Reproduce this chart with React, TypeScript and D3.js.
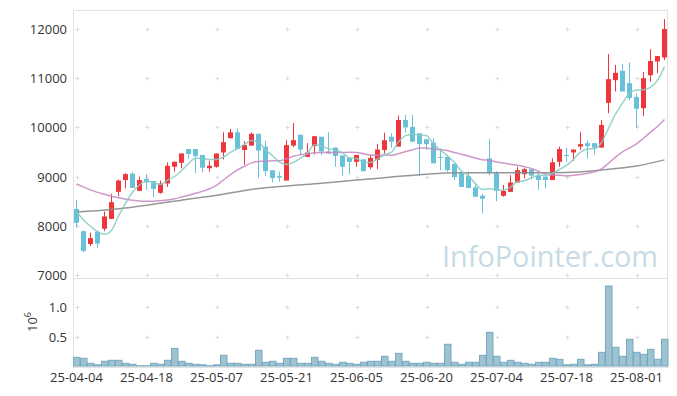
import React from "react";
import * as d3 from "d3";

// trading days, 25-04-04 .. 25-08-07
const dates = [
  "25-04-04", "25-04-07", "25-04-08", "25-04-09", "25-04-10", "25-04-11", "25-04-14", "25-04-15", "25-04-16", "25-04-17",
  "25-04-18", "25-04-21", "25-04-22", "25-04-23", "25-04-24", "25-04-25", "25-04-28", "25-04-29", "25-04-30", "25-05-02",
  "25-05-07", "25-05-08", "25-05-09", "25-05-12", "25-05-13", "25-05-14", "25-05-15", "25-05-16", "25-05-19", "25-05-20",
  "25-05-21", "25-05-22", "25-05-23", "25-05-26", "25-05-27", "25-05-28", "25-05-29", "25-05-30", "25-06-02", "25-06-04",
  "25-06-05", "25-06-09", "25-06-10", "25-06-11", "25-06-12", "25-06-13", "25-06-16", "25-06-17", "25-06-18", "25-06-19",
  "25-06-20", "25-06-23", "25-06-24", "25-06-25", "25-06-26", "25-06-27", "25-06-30", "25-07-01", "25-07-02", "25-07-03",
  "25-07-04", "25-07-07", "25-07-08", "25-07-09", "25-07-10", "25-07-11", "25-07-14", "25-07-15", "25-07-16", "25-07-17",
  "25-07-18", "25-07-21", "25-07-22", "25-07-23", "25-07-24", "25-07-25", "25-07-28", "25-07-29", "25-07-30", "25-07-31",
  "25-08-01", "25-08-04", "25-08-05", "25-08-06", "25-08-07",
];

const opens = [
  8340, 7890, 7630, 7880, 7940, 8140, 8690, 8930, 9060, 8710,
  8950, 8910, 8670, 8860, 9200, 9280, 9560, 9560, 9440, 9170,
  9200, 9490, 9780, 9900, 9540, 9630, 9870, 9610, 9130, 9010,
  8920, 9630, 9850, 9400, 9620, 9810, 9510, 9590, 9430, 9380,
  9300, 9350, 9190, 9340, 9540, 9810, 9610, 10150, 10010, 9880,
  9760, 9690, 9400, 9400, 9260, 9070, 9010, 8780, 8610, 9370,
  9070, 8610, 8690, 8880, 9050, 9150, 9020, 9000, 8930, 9300,
  9440, 9490, 9610, 9680, 9680, 9590, 10500, 10960, 11150, 10900,
  10620, 10390, 11060, 11340, 11420,
];
const highs = [
  8520, 7900, 7860, 7880, 8290, 8650, 8940, 9070, 9090, 9000,
  9050, 8910, 8920, 9290, 9310, 9470, 9560, 9560, 9440, 9320,
  9470, 9900, 9970, 9980, 9720, 9900, 9870, 9730, 9130, 9100,
  9740, 10090, 9850, 9680, 9830, 9810, 9900, 9590, 9430, 9380,
  9440, 9350, 9440, 9660, 9890, 9880, 10240, 10250, 10250, 9880,
  9760, 9780, 9570, 9400, 9260, 9070, 9100, 8860, 8650, 9760,
  9110, 8830, 9030, 9200, 9170, 9150, 9090, 9030, 9370, 9610,
  9590, 9550, 9910, 9740, 9680, 10150, 11490, 11270, 11290, 11320,
  10690, 11130, 11590, 11450, 12200,
];
const lows = [
  7970, 7460, 7590, 7550, 7890, 8140, 8600, 8760, 8770, 8710,
  8730, 8580, 8650, 8790, 9100, 9170, 9360, 9070, 9090, 9100,
  9180, 9350, 9780, 9560, 9240, 9630, 8970, 9010, 8880, 8900,
  8920, 9600, 9440, 9400, 9450, 9440, 9460, 9200, 9020, 9050,
  9200, 9110, 9150, 9150, 9470, 9590, 9610, 9890, 9710, 9010,
  9540, 9270, 9130, 9100, 8930, 8790, 8770, 8590, 8250, 9030,
  8500, 8590, 8690, 8880, 8960, 8940, 8730, 8760, 8930, 9200,
  9300, 9320, 9540, 9370, 9450, 9590, 10290, 10730, 10730, 10550,
  10000, 10230, 10930, 11100, 11370,
];
const closes = [
  8060, 7490, 7750, 7640, 8190, 8480, 8920, 9050, 8770, 8930,
  8880, 8750, 8860, 9220, 9300, 9470, 9460, 9420, 9180, 9220,
  9470, 9700, 9900, 9560, 9640, 9870, 9530, 9110, 8970, 8980,
  9640, 9740, 9550, 9490, 9820, 9510, 9470, 9420, 9200, 9300,
  9440, 9110, 9380, 9550, 9740, 9710, 10150, 10000, 9710, 9660,
  9660, 9270, 9380, 9130, 8990, 8790, 8770, 8590, 8550, 9070,
  8710, 8710, 8880, 9130, 9150, 9020, 8930, 8930, 9290, 9560,
  9420, 9550, 9660, 9620, 9590, 10050, 10980, 11110, 10730, 10600,
  10380, 11000, 11350, 11450, 12000,
];
const volumes = [
  148000, 131000, 46000, 20000, 80000, 97000, 97000, 46000, 29000, 5000,
  5000, 46000, 29000, 97000, 300000, 80000, 46000, 29000, 20000, 5000,
  20000, 182000, 46000, 46000, 29000, 29000, 267000, 63000, 80000, 46000,
  131000, 131000, 46000, 46000, 148000, 80000, 46000, 29000, 63000, 46000,
  29000, 63000, 80000, 80000, 165000, 80000, 216000, 80000, 46000, 46000,
  63000, 46000, 46000, 370000, 63000, 29000, 63000, 63000, 182000, 574000,
  165000, 63000, 97000, 63000, 46000, 29000, 63000, 63000, 131000, 114000,
  20000, 29000, 114000, 20000, 29000, 233000, 1363000, 318000, 165000, 455000,
  233000, 200000, 284000, 114000, 455000,
];

// averages before the window has filled (older days are off the chart)
const ma5Lead = [8290, 8120, 7990, 7880];
const ma20Lead = [
  8850, 8790, 8730, 8680, 8640, 8600, 8570, 8540, 8520, 8505,
  8500, 8500, 8510, 8525, 8550, 8585, 8620, 8660, 8700,
];
// long average, read every 5 sessions
const longMaDays = [0, 5, 10, 15, 20, 25, 30, 35, 40, 45, 50, 55, 60, 65, 70, 75, 80, 84];
const longMaValues = [
  8280, 8330, 8420, 8520, 8620, 8740, 8810, 8865, 8930, 8990,
  9050, 9080, 9080, 9080, 9085, 9135, 9215, 9340,
];

const priceTicks = [7000, 8000, 9000, 10000, 11000, 12000];
const volumeTicks = [500000, 1000000];
const volumeTickLabels = ["0.5", "1.0"];

const W = 677;
const H = 396;
const left = 73;
const right = 668;
const priceTop = 10;
const priceBottom = 278;
const volBottom = 367;

const font = "'Open Sans', 'Noto Sans', sans-serif";
const gridColor = "#e2e2e2";
const up = "#f0363d";
const down = "#68c1d9";

function movingAverage(n: number, lead: number[]) {
  return closes.map((c, i) =>
    i < lead.length ? lead[i] : (d3.mean(closes.slice(i - n + 1, i + 1)) as number)
  );
}

export default function App() {
  const x = d3.scaleBand<string>().domain(dates).range([left, right]).padding(0);
  const bw = x.bandwidth();
  const cx = (d: string) => (x(d) as number) + bw / 2;

  const yPrice = d3.scaleLinear().domain([7000, 12000]).range([275, 29]);
  const yVol = d3.scaleLinear().domain([0, 1000000]).range([366, 307.3]);

  const ma5 = movingAverage(5, ma5Lead);
  const ma20 = movingAverage(20, ma20Lead);

  const line = d3
    .line<[number, number]>()
    .x((d) => cx(dates[d[0]]))
    .y((d) => yPrice(d[1]))
    .curve(d3.curveMonotoneX);

  const ma5Path = line(ma5.map((v, i) => [i, v] as [number, number])) || "";
  const ma20Path = line(ma20.map((v, i) => [i, v] as [number, number])) || "";
  const longPath = line(longMaDays.map((d, i) => [d, longMaValues[i]] as [number, number])) || "";

  const labelDays = dates.filter((_, i) => i % 10 === 0);

  const plus = (px: number, py: number, key: string) => (
    <g key={key} stroke="#dcdcdc" strokeWidth={1}>
      <line x1={px - 2} x2={px + 2} y1={py} y2={py} />
      <line x1={px} x2={px} y1={py - 2} y2={py + 2} />
    </g>
  );

  return (
    <svg
      width={W}
      height={H}
      style={{ position: "absolute", left: 0, top: 0, background: "#fff" }}
      fontFamily={font}
    >
      {/* frame */}
      <g stroke={gridColor} strokeWidth={1} fill="none">
        <line x1={left} x2={right} y1={priceTop + 0.5} y2={priceTop + 0.5} />
        <line x1={left} x2={right} y1={priceBottom + 0.5} y2={priceBottom + 0.5} />
        <line x1={left} x2={right} y1={volBottom + 0.5} y2={volBottom + 0.5} />
        <line x1={left + 0.5} x2={left + 0.5} y1={priceTop} y2={volBottom} />
        <line x1={right - 0.5} x2={right - 0.5} y1={priceTop} y2={volBottom} />
      </g>

      {/* grid crosses */}
      {labelDays.map((d) =>
        priceTicks.map((t) => plus(Math.round(cx(d)) + 0.5, Math.round(yPrice(t)) + 0.5, `p${d}${t}`))
      )}
      {labelDays.map((d) =>
        volumeTicks.map((t) => plus(Math.round(cx(d)) + 0.5, Math.round(yVol(t)) + 0.5, `v${d}${t}`))
      )}

      {/* watermark */}
      <text
        x={442}
        y={267}
        fontSize={30}
        fill="#c6dbe6"
        textLength={216}
        lengthAdjust="spacingAndGlyphs"
      >
        InfoPointer.com
      </text>

      {/* candles */}
      {dates.map((d, i) => {
        const o = opens[i];
        const c = closes[i];
        const color = c >= o ? up : down;
        const top = yPrice(Math.max(o, c));
        const bottom = yPrice(Math.min(o, c));
        return (
          <g key={d}>
            <line
              x1={cx(d)}
              x2={cx(d)}
              y1={yPrice(highs[i])}
              y2={yPrice(lows[i])}
              stroke={color}
              strokeWidth={1}
            />
            <rect
              x={cx(d) - 2.5}
              y={top}
              width={5}
              height={Math.max(1, bottom - top)}
              fill={color}
            />
          </g>
        );
      })}

      {/* moving averages */}
      <path d={longPath} fill="none" stroke="#8c8c8c" strokeWidth={1.5} opacity={0.9} />
      <path d={ma20Path} fill="none" stroke="#c586c1" strokeWidth={1.5} opacity={0.85} />
      <path d={ma5Path} fill="none" stroke="#86cbc1" strokeWidth={1.5} opacity={0.85} />

      {/* volume */}
      {dates.map((d, i) => (
        <rect
          key={`vol${d}`}
          x={(x(d) as number) + 0.5}
          y={yVol(volumes[i])}
          width={bw - 0.5}
          height={yVol(0) - yVol(volumes[i])}
          fill="#9dc2d2"
          stroke="#78a9bf"
          strokeWidth={1}
        />
      ))}

      {/* price axis */}
      {priceTicks.map((t) => (
        <text
          key={`pt${t}`}
          x={67}
          y={yPrice(t)}
          fontSize={13}
          fill="#333"
          textAnchor="end"
          dominantBaseline="central"
        >
          {t}
        </text>
      ))}

      {/* volume axis */}
      {volumeTicks.map((t, i) => (
        <text
          key={`vt${t}`}
          x={67}
          y={yVol(t)}
          fontSize={13}
          fill="#333"
          textAnchor="end"
          dominantBaseline="central"
        >
          {volumeTickLabels[i]}
        </text>
      ))}
      <text transform="translate(37,322) rotate(-90)" fontSize={13} fill="#333" textAnchor="middle">
        10<tspan dy={-6} fontSize={9}>6</tspan>
      </text>

      {/* date axis */}
      {labelDays.map((d) => (
        <text key={`xl${d}`} x={cx(d)} y={382} fontSize={13} fill="#333" textAnchor="middle">
          {d}
        </text>
      ))}
    </svg>
  );
}
